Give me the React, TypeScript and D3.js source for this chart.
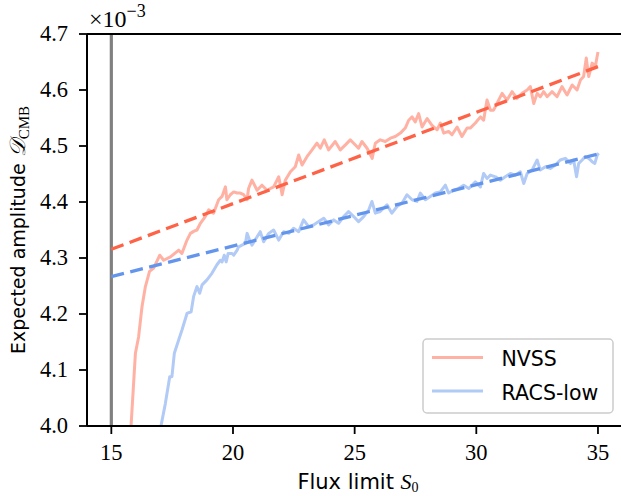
import React from "react";
import * as d3 from "d3";

// ---------- data ----------
const xTicks = [15, 20, 25, 30, 35];
const yTicks = [4.0, 4.1, 4.2, 4.3, 4.4, 4.5, 4.6, 4.7];
const seriesNames = ["NVSS", "RACS-low"];
const fluxCut = 15;

const nvssS = [15.78, 15.81, 15.99, 16.12, 16.26, 16.4, 16.57, 16.74, 16.99, 17.15, 17.43, 17.77, 17.9, 18.11, 18.25, 18.4, 18.52, 18.66, 18.86, 19.0, 19.2, 19.41, 19.55, 19.69, 19.75, 19.89, 20.03, 20.17, 20.3, 20.44, 20.58, 20.64, 20.78, 20.99, 21.19, 21.4, 21.67, 21.88, 22.02, 22.15, 22.36, 22.56, 22.7, 22.84, 23.04, 23.25, 23.45, 23.59, 23.75, 23.93, 24.2, 24.41, 24.62, 24.82, 24.96, 25.16, 25.3, 25.51, 25.72, 25.85, 26.05, 26.26, 26.47, 26.67, 26.88, 27.08, 27.22, 27.36, 27.49, 27.63, 27.77, 27.98, 28.18, 28.39, 28.52, 28.66, 28.86, 29.0, 29.21, 29.41, 29.62, 29.75, 29.96, 30.17, 30.3, 30.44, 30.58, 30.71, 30.85, 31.06, 31.26, 31.47, 31.67, 31.88, 32.09, 32.22, 32.36, 32.5, 32.63, 32.77, 32.91, 33.11, 33.32, 33.52, 33.73, 33.94, 34.14, 34.28, 34.41, 34.52, 34.62, 34.76, 34.89, 35.0];
const nvssD = [3.97, 4.0, 4.13, 4.159, 4.213, 4.249, 4.276, 4.282, 4.305, 4.296, 4.302, 4.314, 4.308, 4.332, 4.344, 4.348, 4.35, 4.362, 4.374, 4.386, 4.38, 4.404, 4.41, 4.427, 4.404, 4.413, 4.418, 4.416, 4.416, 4.413, 4.404, 4.424, 4.439, 4.421, 4.43, 4.421, 4.427, 4.445, 4.413, 4.439, 4.454, 4.463, 4.484, 4.466, 4.481, 4.493, 4.505, 4.496, 4.511, 4.493, 4.508, 4.493, 4.502, 4.511, 4.505, 4.496, 4.508, 4.496, 4.478, 4.505, 4.511, 4.508, 4.514, 4.517, 4.523, 4.532, 4.546, 4.552, 4.543, 4.558, 4.534, 4.549, 4.537, 4.529, 4.541, 4.523, 4.526, 4.52, 4.534, 4.517, 4.532, 4.532, 4.541, 4.552, 4.546, 4.582, 4.564, 4.564, 4.576, 4.594, 4.582, 4.597, 4.585, 4.594, 4.6, 4.606, 4.576, 4.594, 4.588, 4.597, 4.588, 4.597, 4.588, 4.606, 4.591, 4.609, 4.6, 4.618, 4.624, 4.657, 4.624, 4.648, 4.642, 4.668];

const racsS = [16.98, 17.04, 17.22, 17.4, 17.49, 17.59, 17.77, 17.9, 18.11, 18.28, 18.38, 18.52, 18.63, 18.73, 18.93, 19.14, 19.34, 19.48, 19.55, 19.64, 19.72, 19.8, 19.96, 20.03, 20.17, 20.23, 20.37, 20.51, 20.58, 20.68, 20.78, 20.99, 21.12, 21.26, 21.47, 21.67, 21.88, 22.08, 22.29, 22.49, 22.7, 22.9, 23.11, 23.31, 23.52, 23.73, 23.93, 24.14, 24.34, 24.55, 24.75, 24.96, 25.16, 25.37, 25.58, 25.71, 25.85, 26.05, 26.33, 26.53, 26.74, 26.95, 27.15, 27.36, 27.56, 27.7, 27.91, 28.11, 28.32, 28.52, 28.73, 28.86, 29.07, 29.27, 29.48, 29.69, 29.96, 30.17, 30.3, 30.44, 30.58, 30.79, 30.99, 31.19, 31.4, 31.61, 31.81, 31.95, 32.09, 32.29, 32.5, 32.63, 32.84, 33.04, 33.25, 33.45, 33.66, 33.87, 34.0, 34.12, 34.21, 34.35, 34.48, 34.62, 34.76, 34.87, 34.97, 35.03];
const racsD = [3.97, 4.0, 4.04, 4.088, 4.088, 4.13, 4.154, 4.171, 4.201, 4.204, 4.231, 4.249, 4.237, 4.252, 4.261, 4.273, 4.288, 4.296, 4.293, 4.305, 4.293, 4.308, 4.308, 4.305, 4.314, 4.32, 4.323, 4.326, 4.344, 4.332, 4.323, 4.338, 4.347, 4.329, 4.344, 4.35, 4.332, 4.347, 4.344, 4.353, 4.347, 4.368, 4.356, 4.359, 4.365, 4.371, 4.359, 4.368, 4.362, 4.374, 4.383, 4.374, 4.365, 4.374, 4.386, 4.401, 4.38, 4.383, 4.395, 4.38, 4.392, 4.398, 4.413, 4.404, 4.401, 4.416, 4.404, 4.41, 4.416, 4.418, 4.43, 4.416, 4.421, 4.424, 4.43, 4.424, 4.436, 4.427, 4.451, 4.442, 4.448, 4.445, 4.439, 4.445, 4.451, 4.448, 4.454, 4.433, 4.451, 4.457, 4.475, 4.457, 4.463, 4.46, 4.466, 4.475, 4.478, 4.469, 4.475, 4.445, 4.469, 4.475, 4.481, 4.478, 4.472, 4.469, 4.484, 4.487];

const fitS = [15, 35];
const nvssFit = [4.3155, 4.6417];
const racsFit = [4.2667, 4.4857];

// ---------- styles ----------
const W = 621;
const H = 496;
const M = { left: 87, top: 34, right: 622.3, bottom: 426 };
const lightColors = ["#ffb1a3", "#b1caf6"];
const fitColors = ["#ff6347", "#6495ed"];
const serif = "'Liberation Serif', 'DejaVu Serif', serif";
const sans = "'DejaVu Sans', sans-serif";

export default function App() {
  const x = d3.scaleLinear().domain([14, 36]).range([M.left, M.right]);
  const y = d3.scaleLinear().domain([4.0, 4.7]).range([M.bottom, M.top]);
  const line = d3
    .line<[number, number]>()
    .x((d) => x(d[0]))
    .y((d) => y(d[1]));

  const nvss = nvssS.map((s, i) => [s, nvssD[i]] as [number, number]);
  const racs = racsS.map((s, i) => [s, racsD[i]] as [number, number]);
  const nvssFitPts = fitS.map((s, i) => [s, nvssFit[i]] as [number, number]);
  const racsFitPts = fitS.map((s, i) => [s, racsFit[i]] as [number, number]);

  const fmt = d3.format(".1f");

  const legX = 423;
  const legY = 339;

  return (
    <svg
      width={W}
      height={H}
      style={{ position: "absolute", left: 0, top: 0, background: "#fff" }}
    >
      <defs>
        <clipPath id="plotClip">
          <rect x={M.left} y={M.top} width={M.right - M.left} height={M.bottom - M.top} />
        </clipPath>
      </defs>
      <rect x={0} y={0} width={W} height={H} fill="#fff" />

      <g clipPath="url(#plotClip)">
        <line
          x1={x(fluxCut)}
          x2={x(fluxCut)}
          y1={M.top}
          y2={M.bottom}
          stroke="#808080"
          strokeWidth={3.2}
        />
        <path d={line(nvss) || ""} fill="none" stroke={lightColors[0]} strokeWidth={3} strokeLinejoin="round" />
        <path d={line(racs) || ""} fill="none" stroke={lightColors[1]} strokeWidth={3} strokeLinejoin="round" />
        <path d={line(nvssFitPts) || ""} fill="none" stroke={fitColors[0]} strokeWidth={3.3} strokeDasharray="13,6.5" />
        <path d={line(racsFitPts) || ""} fill="none" stroke={fitColors[1]} strokeWidth={3.3} strokeDasharray="13,6.5" />
      </g>

      {/* spines */}
      <line x1={M.left} x2={M.left} y1={M.top} y2={M.bottom} stroke="#000" strokeWidth={2} />
      <line x1={M.left} x2={M.right} y1={M.top} y2={M.top} stroke="#000" strokeWidth={2} />
      <line x1={M.left} x2={M.right} y1={M.bottom} y2={M.bottom} stroke="#000" strokeWidth={2} />
      <line x1={M.right} x2={M.right} y1={M.top} y2={M.bottom} stroke="#000" strokeWidth={2} />

      {/* y ticks */}
      {yTicks.map((t) => (
        <g key={"y" + t}>
          <line x1={M.left - 8} x2={M.left} y1={y(t)} y2={y(t)} stroke="#000" strokeWidth={1.8} />
          <text
            x={M.left - 19}
            y={y(t)}
            dy="0.33em"
            textAnchor="end"
            fontFamily={serif}
            fontSize={22.5}
            fill="#000"
          >
            {fmt(t)}
          </text>
        </g>
      ))}

      {/* x ticks */}
      {xTicks.map((t) => (
        <g key={"x" + t}>
          <line x1={x(t)} x2={x(t)} y1={M.bottom} y2={M.bottom + 8} stroke="#000" strokeWidth={1.8} />
          <text x={x(t)} y={460} textAnchor="middle" fontFamily={serif} fontSize={22.5} fill="#000">
            {t}
          </text>
        </g>
      ))}

      {/* offset text */}
      <text x={89} y={26.5} fontFamily={serif} fontSize={24} fill="#000">
        ×10
        <tspan fontSize={18} dy={-10}>
          −3
        </tspan>
      </text>

      {/* x label */}
      <text x={358} y={489} textAnchor="middle" fontFamily={sans} fontSize={21} fill="#000">
        Flux limit{" "}
        <tspan fontFamily={serif} fontStyle="italic" fontSize={22}>
          S
        </tspan>
        <tspan fontFamily={serif} fontSize={14} dy={3}>
          0
        </tspan>
      </text>

      {/* y label */}
      <text
        transform={`translate(25, ${(M.top + M.bottom) / 2}) rotate(-90)`}
        textAnchor="middle"
        fontFamily={sans}
        fontSize={19}
        fill="#000"
      >
        Expected amplitude{" "}
        <tspan fontFamily={serif} fontStyle="italic" fontSize={22}>
          𝒟
        </tspan>
        <tspan fontFamily={serif} fontSize={15} dy={4}>
          CMB
        </tspan>
      </text>

      {/* legend */}
      <rect
        x={legX}
        y={legY}
        width={190}
        height={74}
        rx={4}
        fill="#fff"
        fillOpacity={0.8}
        stroke="#cccccc"
        strokeWidth={1.5}
      />
      {seriesNames.map((name, i) => (
        <g key={name}>
          <line
            x1={legX + 9}
            x2={legX + 60}
            y1={legY + 18.5 + i * 33.5}
            y2={legY + 18.5 + i * 33.5}
            stroke={lightColors[i]}
            strokeWidth={3}
          />
          <text x={legX + 78.5} y={legY + 27 + i * 33.5} fontFamily={sans} fontSize={20.5} fill="#000">
            {name}
          </text>
        </g>
      ))}
    </svg>
  );
}
